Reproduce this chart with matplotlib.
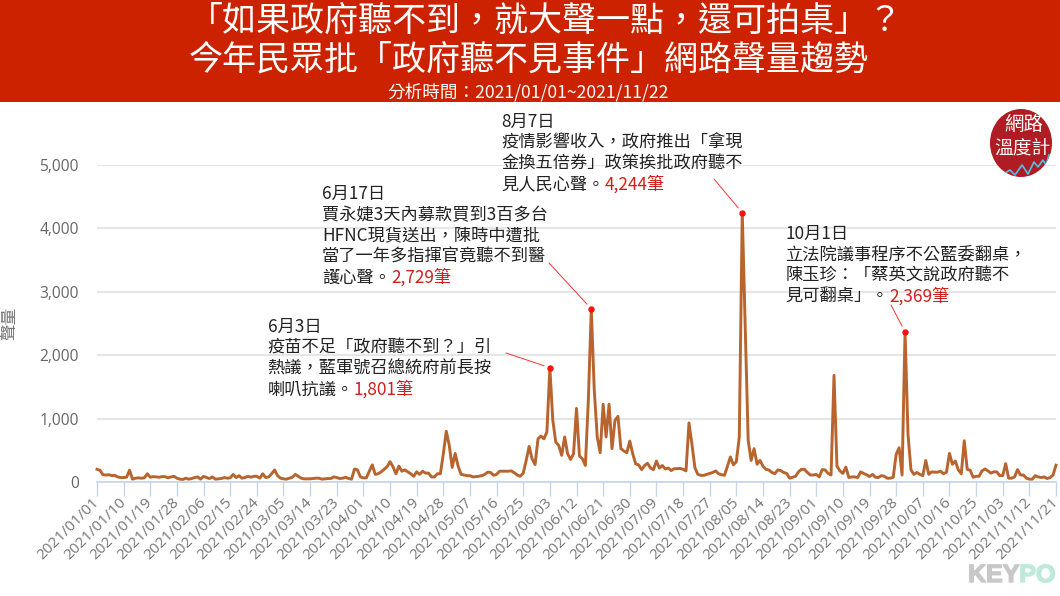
"""
Online volume trend, Jan-Nov 2021
"""
import numpy as np
import pandas as pd
import matplotlib
matplotlib.use('Agg')
import matplotlib.pyplot as plt
import matplotlib.patheffects as pe
from matplotlib.patches import Rectangle, Ellipse
from matplotlib.transforms import ScaledTranslation

plt.rcParams['font.family'] = ['Noto Sans CJK TC', 'DejaVu Sans']

W, H = 1060, 596

title_lines = ['「如果政府聽不到，就大聲一點，還可拍桌」？', '今年民眾批「政府聽不見事件」網路聲量趨勢']
subtitle = '分析時間：2021/01/01~2021/11/22'

start_date = '2021-01-01'
volume = [
    200, 185, 115, 110, 115, 100, 105, 80, 70, 70,
    75, 185, 45, 60, 65, 60, 65, 130, 75, 85,
    80, 75, 85, 85, 65, 80, 90, 60, 45, 40,
    60, 45, 55, 70, 80, 45, 90, 70, 55, 80,
    45, 50, 55, 70, 60, 65, 120, 70, 100, 60,
    70, 90, 75, 90, 90, 60, 130, 70, 80, 130,
    190, 100, 60, 50, 45, 60, 75, 120, 90, 60,
    50, 50, 50, 55, 60, 60, 45, 50, 55, 55,
    80, 70, 55, 60, 75, 55, 45, 205, 190, 80,
    65, 65, 170, 270, 120, 130, 160, 200, 240, 320,
    240, 130, 250, 170, 190, 160, 130, 90, 160, 120,
    170, 140, 140, 80, 80, 130, 130, 440, 800, 580,
    230, 450, 250, 120, 110, 100, 100, 80, 85, 90,
    100, 120, 155, 150, 105, 120, 170, 170, 170, 170,
    175, 145, 110, 90, 140, 340, 560, 365, 275, 680,
    725, 680, 790, 1801, 970, 630, 575, 420, 710, 445,
    355, 445, 1160, 410, 365, 260, 1290, 2729, 1450, 710,
    460, 1225, 710, 1225, 525, 970, 1035, 525, 490, 460,
    645, 445, 285, 270, 195, 260, 295, 220, 195, 330,
    220, 260, 205, 220, 180, 210, 210, 215, 200, 175,
    930, 595, 225, 120, 105, 105, 120, 135, 150, 175,
    130, 115, 105, 250, 395, 270, 320, 710, 4244, 2450,
    655, 340, 525, 280, 340, 250, 200, 190, 150, 130,
    190, 180, 150, 135, 60, 75, 90, 160, 200, 200,
    150, 110, 110, 120, 80, 195, 190, 135, 110, 1680,
    250, 175, 135, 235, 70, 80, 80, 70, 160, 135,
    115, 85, 120, 75, 70, 100, 90, 60, 60, 75,
    435, 540, 110, 2369, 750, 190, 120, 150, 120, 100,
    340, 120, 160, 155, 155, 170, 130, 155, 450, 280,
    330, 190, 130, 650, 200, 185, 75, 90, 90, 175,
    205, 175, 140, 160, 160, 100, 100, 290, 60, 60,
    80, 195, 110, 110, 60, 45, 45, 100, 80, 70,
    80, 55, 70, 110, 265,
]
y_ticks = [0, 1000, 2000, 3000, 4000, 5000]
tick_every = 9

# peak index, date line, body lines, last line, red number, text pos, leader start (pixels)
notes = [
    (153, '6月3日', ['疫苗不足「政府聽不到？」引', '熱議，藍軍號召總統府前長按'], '喇叭抗議。', '1,801筆', (267.5, 327), (506, 353)),
    (167, '6月17日', ['賈永婕3天內募款買到3百多台', 'HFNC現貨送出，陳時中遭批', '當了一年多指揮官竟聽不到醫'], '護心聲。', '2,729筆', (322, 194), (549, 263)),
    (218, '8月7日', ['疫情影響收入，政府推出「拿現', '金換五倍券」政策挨批政府聽不'], '見人民心聲。', '4,244筆', (501.5, 122), (714, 179)),
    (273, '10月1日', ['立法院議事程序不公藍委翻桌，', '陳玉珍：「蔡英文說政府聽不'], '見可翻桌」。', '2,369筆', (785.5, 233.5), (891, 305)),
]

dates = pd.date_range(start_date, periods=len(volume))
x = np.arange(len(volume))


def px(xp, yp):
    # pixel position from top left -> figure fraction
    return xp / W, 1 - yp / H


fig = plt.figure(figsize=(W / 100, H / 100), dpi=100, facecolor='white')

# Header band
fig.patches.append(Rectangle((0, 1 - 102 / H), 1, 102 / H, transform=fig.transFigure,
                             facecolor='#cc2200', edgecolor='none', zorder=0))
fig.text(*px(546, 21), title_lines[0], color='white', fontsize=24.5, ha='center', va='center')
fig.text(*px(529, 60), title_lines[1], color='white', fontsize=24.5, ha='center', va='center')
fig.text(*px(528, 92), subtitle, color='white', fontsize=12.7, ha='center', va='center')

# Chart area
ax = fig.add_axes([97 / W, 1 - 482 / H, 959 / W, 317.3 / H])
ax.plot(x, volume, color='#b8642e', lw=2.1, solid_joinstyle='round', clip_on=False, zorder=3)
ax.set_xlim(0, len(volume) - 1)
ax.set_ylim(0, 5000)
ax.set_yticks(y_ticks)
ax.set_yticklabels([f'{v:,}' for v in y_ticks], fontsize=11.2, color='#666666', family='Open Sans')
ax.set_xticks(x[::tick_every])
ax.set_xticklabels(dates[::tick_every].strftime('%Y/%m/%d'), rotation=45, ha='right', va='center',
                   rotation_mode='anchor', fontsize=11, color='#777777', family='Open Sans')
# pull the slanted labels back so the last one stays inside the picture
shift = ScaledTranslation(-4 / 100, -6 / 100, fig.dpi_scale_trans)
for lab in ax.get_xticklabels():
    lab.set_transform(lab.get_transform() + shift)
down = ScaledTranslation(0, -1.5 / 100, fig.dpi_scale_trans)
for lab in ax.get_yticklabels():
    lab.set_transform(lab.get_transform() + down)
ax.tick_params(axis='y', length=0, pad=13)
ax.tick_params(axis='x', length=10, width=1, color='#c5d5e8', pad=3)
ax.grid(axis='y', color='#e6e6e6', lw=1.5)
ax.set_axisbelow(True)
for side in ['top', 'right', 'left']:
    ax.spines[side].set_visible(False)
ax.spines['bottom'].set_color('#c5d5e8')
ax.spines['bottom'].set_linewidth(1.2)
fig.text(*px(10, 323), '聲量', color='#777777', fontsize=12, rotation=90, ha='center', va='center')

# Annotations
renderer = fig.canvas.get_renderer()
line_h = 20.9
note_size = 12.4
for peak, day, body, last, number, (tx, ty), lead in notes:
    ax.plot(peak, volume[peak], 'o', color='#ff1010', ms=3.6, zorder=4, clip_on=False)
    ax.annotate('', xy=(peak, volume[peak]), xycoords='data',
                xytext=px(*lead), textcoords='figure fraction',
                arrowprops=dict(arrowstyle='-', color='#ff3030', lw=0.7, shrinkA=0, shrinkB=4.5))
    fig.text(*px(tx, ty), day, fontsize=note_size, color='#222222', va='center')
    for i, line in enumerate(body):
        fig.text(*px(tx, ty + (i + 1) * line_h), line, fontsize=note_size, color='#222222', va='center')
    yp = ty + (len(body) + 1) * line_h
    t = fig.text(*px(tx, yp), last, fontsize=note_size, color='#222222', va='center')
    end = t.get_window_extent(renderer).x1
    fig.text(*px(end, yp), number, fontsize=note_size, color='#d0201c', va='center')

# Logo badge
logo = fig.add_axes([0, 0, 1, 1], facecolor='none')
logo.set_xlim(0, W)
logo.set_ylim(H, 0)
logo.axis('off')
badge = Ellipse((1021, 143), 62, 68, facecolor='#b01c24', edgecolor='none')
logo.add_patch(badge)
logo.text(1024, 125, '網路', color='white', fontsize=14, ha='center', va='center')
logo.text(1022, 148, '溫度計', color='white', fontsize=13.5, ha='center', va='center')
wiggle, = logo.plot([1005, 1010, 1015, 1022, 1028, 1034, 1038, 1043, 1046, 1049],
                    [173, 170, 175, 165, 174, 162, 167, 160, 165, 155],
                    color='#4cc4e8', lw=1.2)
wiggle.set_clip_path(badge)

# KEYPO mark
key = fig.text(*px(968, 575), 'KEY', color='#c8c8c8', fontsize=18, fontweight='bold',
               family='Liberation Sans', va='center',
               path_effects=[pe.withStroke(linewidth=1, foreground='#c8c8c8')])
fig.text(*px(key.get_window_extent(renderer).x1, 575), 'PO', color='#bfeadb', fontsize=18,
         fontweight='bold', family='Liberation Sans', va='center',
         path_effects=[pe.withStroke(linewidth=1, foreground='#bfeadb')])

fig.savefig('out.png', dpi=100, facecolor='white')
